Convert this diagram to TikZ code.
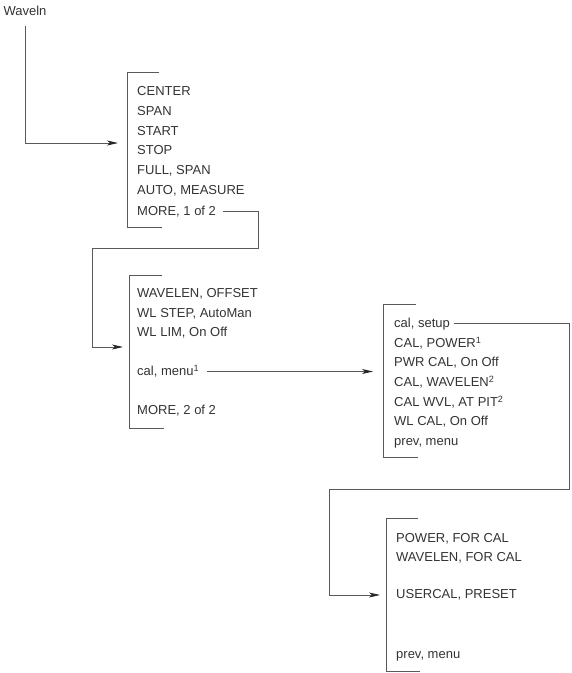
\documentclass[tikz,border=0pt]{standalone}
\usepackage{fontspec}
\setmainfont{Liberation Sans}
\usetikzlibrary{arrows.meta}
\begin{document}
\begin{tikzpicture}[x=1pt,y=-1pt,>={Stealth[length=11pt,width=5pt,inset=3pt,color=black!85]}]
\tikzstyle{menuitem}=[anchor=base west, inner sep=0pt, text=black!80, font=\fontsize{13}{15}\selectfont]
\tikzstyle{bracket}=[line width=0.8pt, draw=black!65]
\tikzstyle{flow}=[line width=0.8pt, draw=black!65, ->]
\useasboundingbox (0,0) rectangle (572,673);

% top key
\node[menuitem, anchor=base] (waveln) at (25,15.5) {Waveln};

% Menu 1
\draw[bracket] (159,72) -- (127,72) -- (127,227) -- (162,227);
\coordinate (in1) at (118,143);
\node[menuitem] (center) at (137,95.5) {CENTER};
\node[menuitem] (span) at (137,115.5) {SPAN};
\node[menuitem] (start) at (137,135.5) {START};
\node[menuitem] (stop) at (137,154.5) {STOP};
\node[menuitem] (fullspan) at (137,174.5) {FULL, SPAN};
\node[menuitem] (automeas) at (137,194.5) {AUTO, MEASURE};
\node[menuitem] (more1) at (137,215.5) {MORE, 1 of 2};

% Menu 2
\draw[bracket] (162,275) -- (129,275) -- (129,428) -- (164,428);
\coordinate (in2) at (123,347);
\node[menuitem] (wloffset) at (137,297.5) {WAVELEN, OFFSET};
\node[menuitem] (wlstep) at (137,317) {WL STEP, AutoMan};
\node[menuitem] (wllim) at (137,336.5) {WL LIM, On Off};
\node[menuitem] (calmenu) at (137,375.5) {cal, menu\textsuperscript{1}};
\node[menuitem] (more2) at (137,414.5) {MORE, 2 of 2};

% Menu 3
\draw[bracket] (416,304) -- (383,304) -- (383,457) -- (418,457);
\coordinate (in3) at (373,371.5);
\node[menuitem] (calsetup) at (394,327.5) {cal, setup};
\node[menuitem] (calpower) at (394,347.5) {CAL, POWER\textsuperscript{1}};
\node[menuitem] (pwrcal) at (394,366.5) {PWR CAL, On Off};
\node[menuitem] (calwavelen) at (394,386.5) {CAL, WAVELEN\textsuperscript{2}};
\node[menuitem] (calwvl) at (394,406.5) {CAL WVL, AT PIT\textsuperscript{2}};
\node[menuitem] (wlcal) at (394,425.5) {WL CAL, On Off};
\node[menuitem] (prev1) at (394,445.5) {prev, menu};

% Menu 4
\draw[bracket] (418,518) -- (386,518) -- (386,671) -- (420,671);
\coordinate (in4) at (380,595);
\node[menuitem] (powerfor) at (396,542.5) {POWER, FOR CAL};
\node[menuitem] (wavelenfor) at (396,561.5) {WAVELEN, FOR CAL};
\node[menuitem] (usercal) at (396,598.5) {USERCAL, PRESET};
\node[menuitem] (prev2) at (396,658.5) {prev, menu};

% links
\coordinate (r1) at (258,248);
\coordinate (l1) at (92,248);
\coordinate (r3) at (569,489);
\coordinate (l3) at (329,489);
\draw[flow] ([yshift=-10pt]waveln.south) |- (in1);
\draw[flow] ([xshift=7pt,yshift=4.5pt]more1.base east) -| (r1) -- (l1) |- (in2);
\draw[flow] ([xshift=8pt]calmenu.base east |- in3) -- (in3);
\draw[flow] ([xshift=4pt,yshift=4.5pt]calsetup.base east) -| (r3) -- (l3) |- (in4);
\end{tikzpicture}
\end{document}
